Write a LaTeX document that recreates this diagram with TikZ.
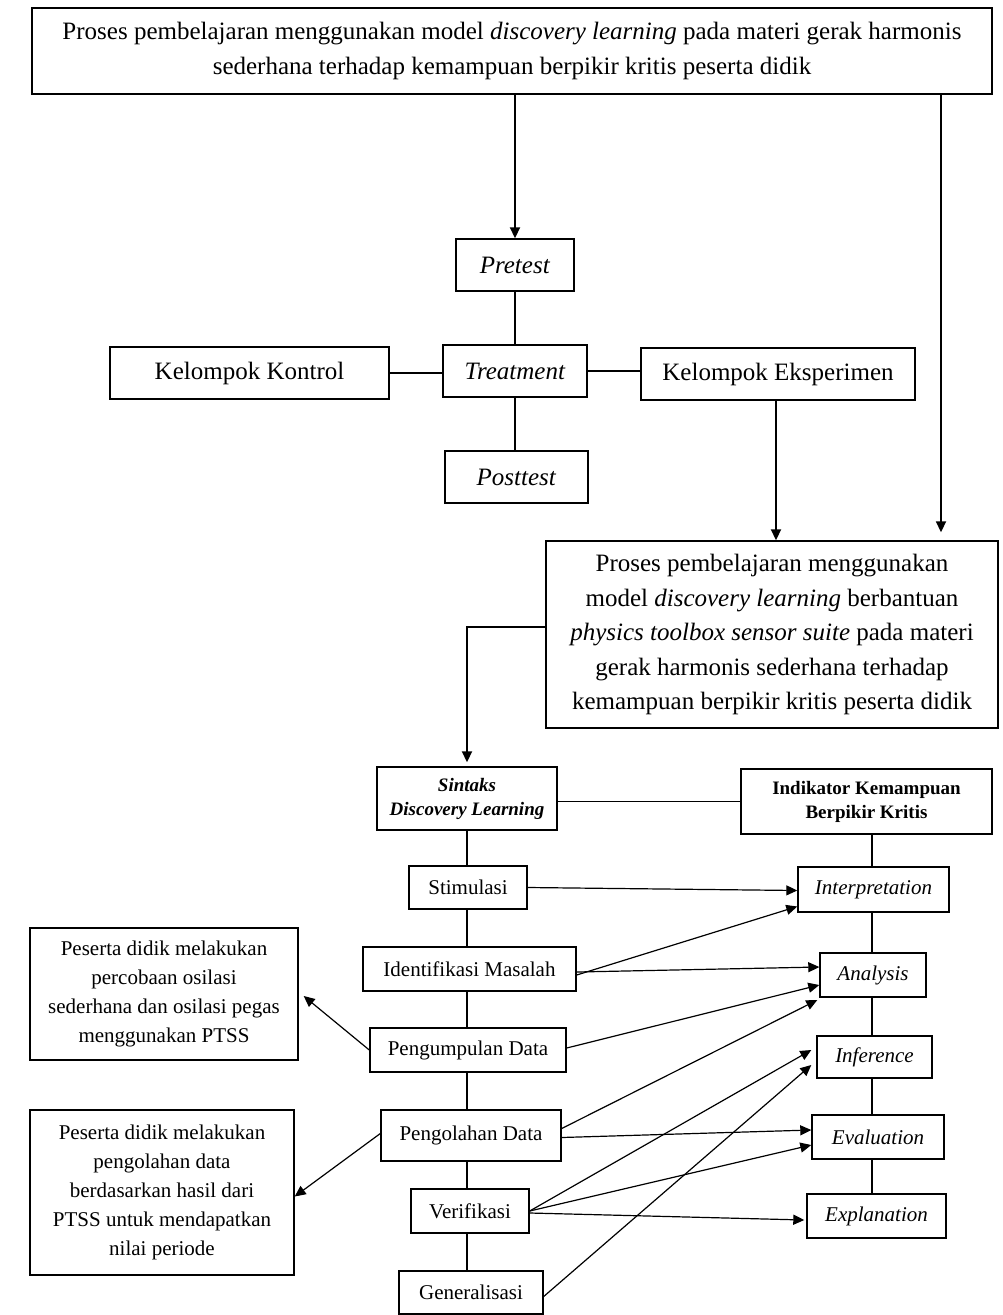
\documentclass[tikz,border=0pt]{standalone}
\usepackage{fontspec}
\setmainfont{Liberation Serif}
\usetikzlibrary{arrows.meta}
\begin{document}
\begin{tikzpicture}[x=1pt,y=-1pt,
  box/.style={draw, line width=1.4pt, inner sep=0pt, align=center},
  big/.style={box, font=\fontsize{25}{34.5}\selectfont},
  small/.style={box, font=\fontsize{21}{29}\selectfont},
  hdr/.style={box, font=\fontsize{19}{24}\selectfont\bfseries},
  con/.style={line width=1.8pt},
  arr/.style={con, -{Triangle[length=11pt,width=10pt]}},
  tarr/.style={line width=1.2pt, -{Triangle[length=11pt,width=10pt]}}]
\useasboundingbox (0,0) rectangle (1003,1315);
% top part
\node[big, minimum width=960pt, minimum height=86pt] (top) at (512,51)
  {Proses pembelajaran menggunakan model \textit{discovery learning} pada materi gerak harmonis\\sederhana terhadap kemampuan berpikir kritis peserta didik};
\node[big, minimum width=118pt, minimum height=52pt] (pre) at (515,265) {\textit{Pretest}};
\node[big, minimum width=144pt, minimum height=52pt] (treat) at (515,371) {\textit{Treatment}};
\node[big, minimum width=279pt, minimum height=52pt] (kon) at (249.5,373) {Kelompok Kontrol};
\node[big, minimum width=274pt, minimum height=52pt] (eks) at (778,374) {Kelompok Eksperimen};
\node[big, minimum width=143pt, minimum height=52pt] (post) at (516.5,477) {\textit{Posttest}};
\node[big, minimum width=452pt, minimum height=187pt] (bigbox) at (772,634.5)
  {Proses pembelajaran menggunakan\\model \textit{discovery learning} berbantuan\\\textit{physics toolbox sensor suite} pada materi\\gerak harmonis sederhana terhadap\\kemampuan berpikir kritis peserta didik};
% lower part
\node[hdr, minimum width=180pt, minimum height=63pt] (sin) at (467,798.5) {\textit{Sintaks}\\\textit{Discovery Learning}};
\node[hdr, minimum width=251pt, minimum height=65pt] (ind) at (866.5,801.5) {Indikator Kemampuan\\Berpikir Kritis};
\node[small, minimum width=118pt, minimum height=43pt] (sti) at (468,887.5) {Stimulasi};
\node[small, minimum width=213pt, minimum height=44pt] (ide) at (469.5,969) {Identifikasi Masalah};
\node[small, minimum width=196pt, minimum height=44pt] (pgm) at (468,1050) {Pengumpulan Data};
\node[small, minimum width=180pt, minimum height=51pt] (pgo) at (471,1135.5) {Pengolahan Data};
\node[small, minimum width=118pt, minimum height=44pt] (ver) at (470,1211) {Verifikasi};
\node[small, minimum width=144pt, minimum height=43pt] (gen) at (471,1292.5) {Generalisasi};
\node[small, minimum width=151pt, minimum height=45pt] (int) at (873.5,889.5) {\textit{Interpretation}};
\node[small, minimum width=106pt, minimum height=44pt] (ana) at (873,975) {\textit{Analysis}};
\node[small, minimum width=115pt, minimum height=42pt] (inf) at (874.5,1057) {\textit{Inference}};
\node[small, minimum width=132pt, minimum height=44pt] (eva) at (878,1137) {\textit{Evaluation}};
\node[small, minimum width=139pt, minimum height=44pt] (exp) at (876.5,1216) {\textit{Explanation}};
\node[small, minimum width=268pt, minimum height=132pt] (la) at (164,994)
  {Peserta didik melakukan\\percobaan osilasi\\sederhana dan osilasi pegas\\menggunakan PTSS};
\node[small, minimum width=264pt, minimum height=165pt] (lb) at (162,1192.5)
  {Peserta didik melakukan\\pengolahan data\\berdasarkan hasil dari\\PTSS untuk mendapatkan\\nilai periode};
% connectors top
\draw[arr] (pre.north |- top.south) -- (pre.north);
\coordinate (rt) at (941,94);
\draw[arr, shorten >=8pt] (rt) -- (rt |- bigbox.north);
\draw[con] (pre) -- (treat);
\draw[con] (treat.south) -- (treat.south |- post.north);
\draw[con] (kon.east) -- (kon.east -| treat.west);
\draw[con] (treat.east) -- (treat.east -| eks.west);
\coordinate (ek) at (776,400);
\draw[arr] (ek) -- (ek |- bigbox.north);
\coordinate (bl) at (546,627);
\draw[arr, shorten >=4pt] (bl) -- (sin.north |- bl) -- (sin.north);
% chains
\draw[con] ([yshift=-3pt]sin.east) -- ([yshift=-3pt]sin.east -| ind.west);
\coordinate (cx) at (467,0);
\draw[con] (cx |- sin.south) -- (cx |- sti.north);
\draw[con] (cx |- sti.south) -- (cx |- ide.north);
\draw[con] (cx |- ide.south) -- (cx |- pgm.north);
\draw[con] (cx |- pgm.south) -- (cx |- pgo.north);
\draw[con] (cx |- pgo.south) -- (cx |- ver.north);
\draw[con] (cx |- ver.south) -- (cx |- gen.north);
\coordinate (dx) at (872,0);
\draw[con] (dx |- ind.south) -- (dx |- int.north);
\draw[con] (dx |- int.south) -- (dx |- ana.north);
\draw[con] (dx |- ana.south) -- (dx |- inf.north);
\draw[con] (dx |- inf.south) -- (dx |- eva.north);
\draw[con] (dx |- eva.south) -- (dx |- exp.north);
% arrows to indicators
\draw[tarr] (sti.east) -- ([yshift=-1pt]int.west);
\draw[tarr] ([yshift=-6pt]ide.east) -- ([yshift=-17pt]int.west);
\draw[tarr] ([yshift=-3pt]ide.east) -- ([yshift=8pt]ana.west);
\draw[tarr] ([yshift=2pt]pgm.east) -- ([yshift=-10pt]ana.west);
\draw[tarr] ([yshift=7pt]pgo.east) -- ([xshift=-2pt,yshift=-25pt]ana.west);
\draw[tarr] ([yshift=-2pt]pgo.east) -- ([yshift=7pt]eva.west);
\draw[tarr] (ver.east) -- ([xshift=-5pt,yshift=7pt]inf.west);
\draw[tarr] (ver.east) -- ([yshift=-8pt]eva.west);
\draw[tarr] ([yshift=-2pt]ver.east) -- ([xshift=-2pt,yshift=-4pt]exp.west);
\draw[tarr] ([yshift=-4pt]gen.east) -- ([xshift=-5pt,yshift=-8pt]inf.west);
% arrows to left boxes
\draw[tarr] (pgm.west) -- ([xshift=5pt,yshift=-2pt]la.east);
\draw[tarr] ([yshift=2pt]pgo.west) -- ([yshift=-4pt]lb.east);
\end{tikzpicture}
\end{document}
